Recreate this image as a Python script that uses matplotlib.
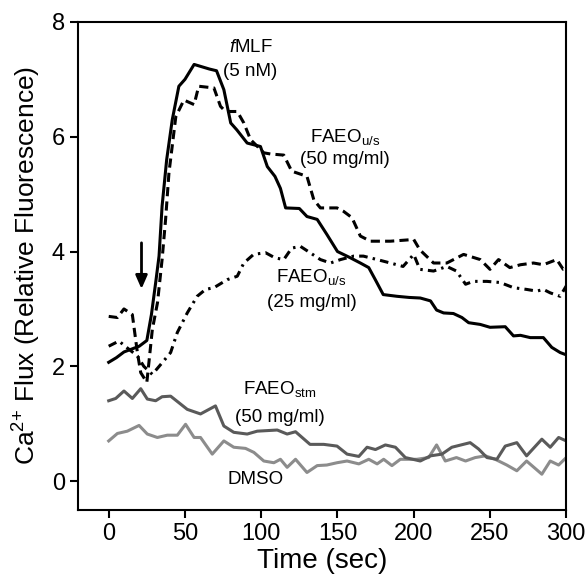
import matplotlib
matplotlib.use("Agg")
import matplotlib.pyplot as plt

plt.rcParams["font.family"] = ["Liberation Sans", "DejaVu Sans"]
plt.rcParams["mathtext.fontset"] = "custom"
plt.rcParams["mathtext.rm"] = "Liberation Sans"
plt.rcParams["mathtext.it"] = "Liberation Sans:italic"
plt.rcParams["mathtext.default"] = "regular"

# fMLF (5 nM) - solid black
fmlf_t = [0, 5, 10, 15, 20, 25, 28, 31, 33, 35, 38, 41.7, 46, 50, 56, 61, 66, 70.7,
          75.5, 80, 84, 90.8, 99.5, 104, 109, 112.6, 116, 125, 130, 136.7, 143, 150,
          158.5, 165, 170.5, 175, 180, 189, 197, 204.3, 211, 215, 219.6, 226, 231.6,
          236, 243.6, 250, 260, 265.4, 270, 276.4, 285, 290.5, 296, 300]
fmlf_v = [2.07, 2.15, 2.25, 2.3, 2.35, 2.45, 2.9, 3.5, 3.92, 4.79, 5.6, 6.3, 6.88, 7.0,
          7.26, 7.22, 7.18, 7.15, 6.82, 6.24, 6.12, 5.89, 5.83, 5.48, 5.31, 5.1, 4.76,
          4.75, 4.61, 4.56, 4.3, 4.0, 3.89, 3.8, 3.72, 3.5, 3.25, 3.22, 3.2, 3.19, 3.14,
          2.98, 2.93, 2.92, 2.85, 2.76, 2.73, 2.68, 2.69, 2.53, 2.54, 2.5, 2.5, 2.33,
          2.24, 2.2]

# FAEO u/s (50 mg/ml) - dashed black
us50_t = [0, 5.7, 10, 15.5, 18.8, 21, 25, 28.6, 32, 35, 37.3, 39.5, 44, 49.3, 56, 59,
          69, 73.3, 76.6, 84.3, 88.6, 93, 101.7, 106, 114.8, 120, 130, 134.5, 138.8,
          149.7, 154, 159.5, 165, 171.6, 184.7, 200, 204, 213, 221.7, 232.7, 243.6,
          250, 255.6, 263, 270, 278.5, 285, 293.8, 298, 300]
us50_v = [2.87, 2.85, 3.0, 2.9, 2.24, 1.89, 1.72, 2.64, 3.11, 3.86, 4.56, 5.37, 6.35,
          6.64, 6.56, 6.88, 6.85, 6.53, 6.44, 6.44, 6.24, 5.95, 5.72, 5.7, 5.68, 5.4,
          5.31, 4.9, 4.76, 4.76, 4.7, 4.59, 4.27, 4.18, 4.18, 4.21, 4.03, 3.8, 3.8,
          3.95, 3.86, 3.69, 3.86, 3.72, 3.77, 3.8, 3.77, 3.86, 3.69, 3.7]

# FAEO u/s (25 mg/ml) - dash-dot black
us25_t = [0, 6.7, 12.2, 18.8, 23, 28.6, 35, 40.6, 45, 51.5, 58, 63.5, 69, 77.7, 84.3,
          88.6, 95, 102.8, 109, 114.8, 120, 125.7, 132, 138.8, 145.4, 152, 160.6, 167,
          176, 184.7, 193, 200, 204, 213, 221.7, 228, 234, 239, 248, 256.7, 265.4,
          274, 280.7, 285, 289.5, 296, 300]
us25_v = [2.35, 2.44, 2.32, 2.18, 2.0, 1.86, 2.06, 2.24, 2.59, 2.93, 3.22, 3.34, 3.37,
          3.51, 3.57, 3.8, 3.95, 3.98, 3.89, 3.86, 4.06, 4.09, 3.98, 3.86, 3.8, 3.86,
          3.92, 3.92, 3.86, 3.8, 3.74, 3.95, 3.69, 3.66, 3.74, 3.66, 3.43, 3.48, 3.48,
          3.46, 3.37, 3.34, 3.31, 3.34, 3.28, 3.22, 3.4]

# FAEO stm (50 mg/ml) - dark gray
stm_t = [0, 4.6, 10, 15.5, 21, 25.3, 30.8, 35, 40.6, 51.5, 60.2, 70, 75.5, 82, 90.8,
         97.4, 110.5, 117, 122.5, 132, 141, 149.7, 156.3, 164, 169.4, 174.9, 181.4,
         188, 194.5, 204.3, 211, 218.5, 225, 237, 242.5, 248, 254.5, 260, 267.6, 274,
         284, 289.5, 295, 300]
stm_v = [1.40, 1.44, 1.57, 1.44, 1.61, 1.43, 1.40, 1.47, 1.48, 1.25, 1.17, 1.31, 0.96,
         0.85, 0.82, 0.87, 0.89, 0.82, 0.86, 0.64, 0.64, 0.61, 0.47, 0.43, 0.59, 0.55,
         0.63, 0.59, 0.41, 0.35, 0.44, 0.47, 0.59, 0.67, 0.56, 0.41, 0.38, 0.61, 0.67,
         0.44, 0.73, 0.59, 0.76, 0.70]

# DMSO - light gray
dmso_t = [0, 5.7, 12.2, 19.9, 25.3, 31.9, 38.4, 45, 50.4, 56, 60.2, 67.9, 75.5, 82,
          89.7, 95.2, 101.7, 108.3, 112.6, 117, 122.5, 130, 136.7, 143, 149.7, 156.3,
          164, 170.5, 176, 180.3, 185.7, 191.2, 202, 209.8, 215, 220.7, 228, 234,
          240.3, 247, 253.4, 261, 267.6, 274, 284, 289.5, 295, 300]
dmso_v = [0.70, 0.83, 0.87, 0.97, 0.82, 0.76, 0.80, 0.80, 0.99, 0.76, 0.76, 0.47, 0.70,
          0.59, 0.57, 0.50, 0.35, 0.32, 0.38, 0.24, 0.38, 0.15, 0.27, 0.28, 0.32, 0.35,
          0.30, 0.38, 0.30, 0.38, 0.27, 0.38, 0.38, 0.41, 0.63, 0.35, 0.41, 0.35, 0.41,
          0.44, 0.38, 0.28, 0.18, 0.35, 0.12, 0.35, 0.28, 0.41]

x_ticks = [0, 50, 100, 150, 200, 250, 300]
y_ticks = [0, 2, 4, 6, 8]

fig = plt.figure(figsize=(5.88, 5.78), dpi=100)
ax = fig.add_axes([0.133, 0.118, 0.830, 0.844])

lw = 2.2
ax.plot(dmso_t, dmso_v, color="#8c8c8c", lw=lw)
ax.plot(stm_t, stm_v, color="#5a5a5a", lw=lw)
ax.plot(us25_t, us25_v, color="black", lw=lw, linestyle=(0, (2.8, 1.7, 0.8, 1.7)))
ax.plot(us50_t, us50_v, color="black", lw=lw, linestyle=(0, (3, 1.7)))
ax.plot(fmlf_t, fmlf_v, color="black", lw=lw)

# stimulus arrow
ax.annotate("", xy=(21.5, 3.3), xytext=(21.5, 4.2),
            arrowprops=dict(arrowstyle="-|>,head_width=0.35,head_length=0.8",
                            color="black", lw=2))

fs = 13.5
ax.text(93, 7.55, r"$\it{f}$MLF", ha="center", va="center", fontsize=fs)
ax.text(93, 7.13, "(5 nM)", ha="center", va="center", fontsize=fs)
ax.text(155, 6.0, "FAEO$_{u/s}$", ha="center", va="center", fontsize=fs)
ax.text(155, 5.6, "(50 mg/ml)", ha="center", va="center", fontsize=fs)
ax.text(133, 3.55, "FAEO$_{u/s}$", ha="center", va="center", fontsize=fs)
ax.text(133, 3.11, "(25 mg/ml)", ha="center", va="center", fontsize=fs)
ax.text(112, 1.6, "FAEO$_{stm}$", ha="center", va="center", fontsize=fs)
ax.text(112, 1.11, "(50 mg/ml)", ha="center", va="center", fontsize=fs)
ax.text(96, 0.02, "DMSO", ha="center", va="center", fontsize=fs)

ax.set_xlim(-20, 300)
ax.set_ylim(-0.5, 8)
ax.set_xticks(x_ticks)
ax.set_yticks(y_ticks)
ax.tick_params(direction="out", length=6, width=1.5, labelsize=17)
for s in ax.spines.values():
    s.set_linewidth(1.5)

ax.set_xlabel("Time (sec)", fontsize=20, labelpad=2)
ax.set_ylabel("Ca$^{2{+}}$ Flux (Relative Fluorescence)", fontsize=19, labelpad=6)

fig.savefig("out.png", dpi=100)
